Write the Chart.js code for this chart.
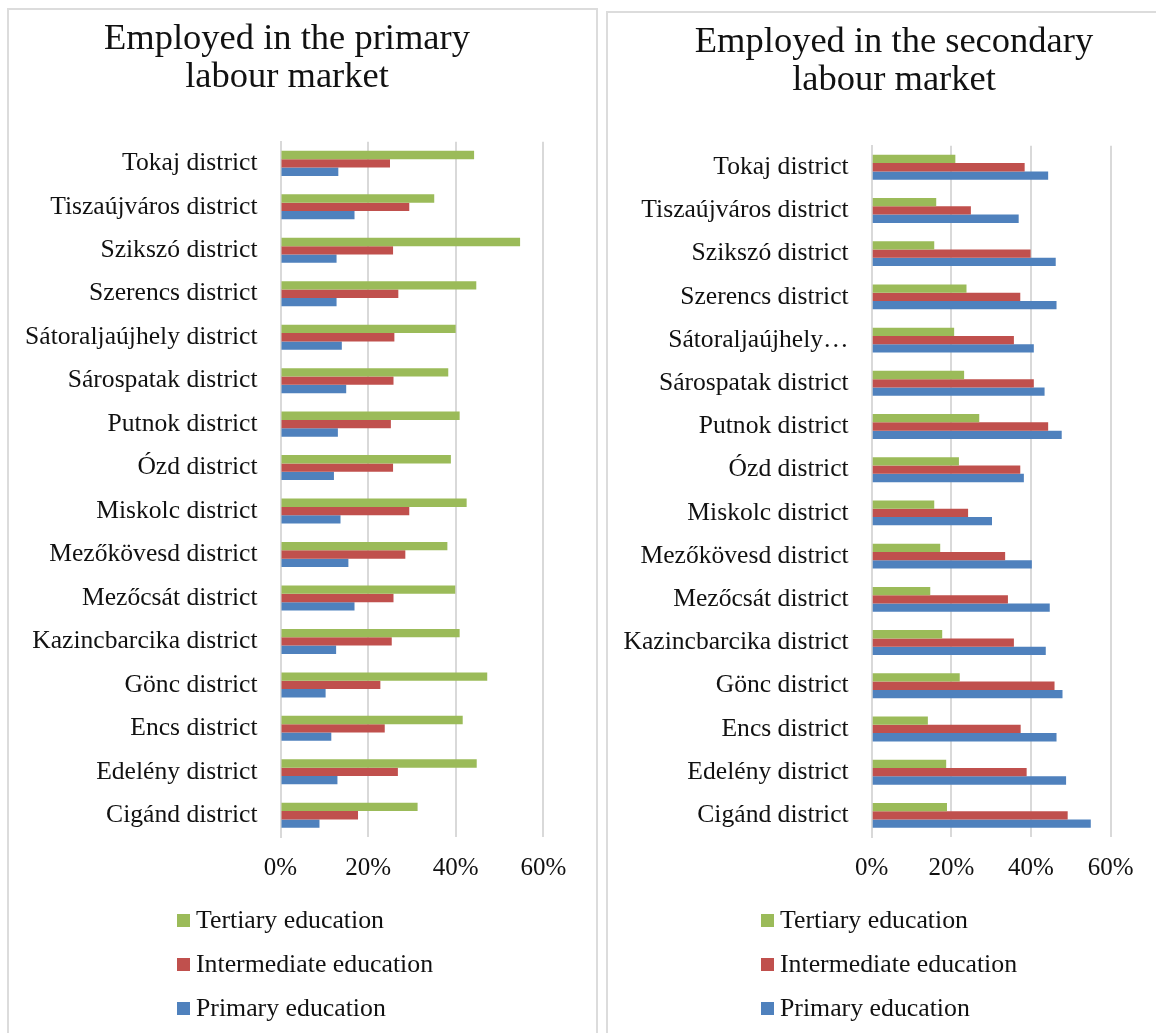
<!DOCTYPE html>
<html>
<head>
<meta charset="utf-8">
<script src="https://cdn.jsdelivr.net/npm/chart.js@4.4.0/dist/chart.umd.min.js"></script>
<style>
  body { margin: 0; background: #fff; width: 1156px; height: 1033px; overflow: hidden; position: relative; font-family: "Liberation Serif", serif; }
  .panel { position: absolute; border: 2px solid #dcdcdc; background: #fff; }
  canvas { position: absolute; top: 0; }
  .legend { position: absolute; font-size: 25.8px; color: #111; }
  .legend div { height: 44px; line-height: 44px; white-space: nowrap; }
  .legend span.box { display: inline-block; width: 13px; height: 13px; margin-right: 6px; vertical-align: middle; position: relative; top: -2px; }
</style>
</head>
<body>
<div class="panel" style="left:7px; top:8px; width:587px; height:1040px;"></div>
<div class="panel" style="left:606px; top:11px; width:560px; height:1040px;"></div>
<canvas id="primaryChart" width="600" height="900" style="left:0px;"></canvas>
<canvas id="secondaryChart" width="556" height="900" style="left:600px;"></canvas>
<div class="legend" id="primaryLegend" style="left:177px; top:898px;"></div>
<div class="legend" id="secondaryLegend" style="left:761px; top:898px;"></div>
<script>
const districts = [
    'Tokaj district',
    'Tiszaújváros district',
    'Szikszó district',
    'Szerencs district',
    'Sátoraljaújhely district',
    'Sárospatak district',
    'Putnok district',
    'Ózd district',
    'Miskolc district',
    'Mezőkövesd district',
    'Mezőcsát district',
    'Kazincbarcika district',
    'Gönc district',
    'Encs district',
    'Edelény district',
    'Cigánd district',
];

const seriesNames = ['Tertiary education', 'Intermediate education', 'Primary education'];
const seriesColors = ['#9bbb59', '#c0504d', '#4f81bd'];
const xTicks = [0, 20, 40, 60];

// primary labour market, % employed
const primaryTertiary = [44.2, 35.1, 54.7, 44.7, 40.0, 38.3, 40.9, 38.9, 42.5, 38.1, 39.9, 40.9, 47.2, 41.6, 44.8, 31.3];
const primaryIntermediate = [25.0, 29.4, 25.7, 26.9, 26.0, 25.8, 25.2, 25.7, 29.4, 28.5, 25.8, 25.4, 22.8, 23.8, 26.8, 17.7];
const primaryPrimary = [13.2, 16.9, 12.8, 12.8, 14.0, 15.0, 13.1, 12.2, 13.7, 15.5, 16.9, 12.7, 10.3, 11.6, 13.0, 8.9];

// secondary labour market, % employed
const secondaryTertiary = [21.0, 16.2, 15.7, 23.8, 20.7, 23.2, 27.0, 21.9, 15.7, 17.2, 14.7, 17.7, 22.1, 14.1, 18.7, 18.9];
const secondaryIntermediate = [38.4, 24.9, 39.9, 37.3, 35.7, 40.7, 44.3, 37.3, 24.2, 33.5, 34.2, 35.7, 45.9, 37.4, 38.9, 49.2];
const secondaryPrimary = [44.3, 36.9, 46.2, 46.4, 40.7, 43.4, 47.7, 38.2, 30.2, 40.2, 44.7, 43.7, 47.9, 46.4, 48.8, 55.0];

const FONT = '"Liberation Serif", "Times New Roman", serif';
Chart.defaults.font.family = FONT;
Chart.defaults.color = '#111';

function makeChart(id, legendId, title, values, opts) {
    const datasets = values.map((v, i) => ({
        label: seriesNames[i],
        data: v,
        backgroundColor: seriesColors[i],
        borderWidth: 0,
        barPercentage: 1,
        categoryPercentage: 0.576,
    }));

    // move the title so it sits centred over the panel, not the canvas
    const titleShift = {
        id: 'titleShift',
        afterLayout(chart) {
            const t = chart.titleBlock;
            const d = opts.titleCenter - (t.left + t.right) / 2;
            t.left += d;
            t.right += d;
        },
    };

    const chart = new Chart(document.getElementById(id), {
        type: 'bar',
        data: { labels: districts, datasets: datasets },
        plugins: [titleShift],
        options: {
            indexAxis: 'y',
            responsive: false,
            animation: false,
            layout: {
                padding: { left: 0, right: opts.padRight, top: 0, bottom: 0 },
            },
            plugins: {
                legend: { display: false },
                tooltip: { enabled: false },
                title: {
                    display: true,
                    text: title,
                    color: '#111',
                    font: { size: 36.5, weight: 'normal', lineHeight: 1.05 },
                    padding: { top: opts.titleTop, bottom: opts.titleBottom },
                },
            },
            scales: {
                x: {
                    min: 0,
                    max: 60,
                    afterFit: (scale) => { scale.height = 63; },
                    afterBuildTicks: (scale) => { scale.ticks = xTicks.map(v => ({ value: v })); },
                    ticks: {
                        padding: 16,
                        font: { size: 25 },
                        callback: (v) => v + '%',
                    },
                    grid: { color: '#d9d9d9', lineWidth: 2, drawTicks: false },
                    border: { display: false },
                },
                y: {
                    afterFit: (scale) => { scale.width = opts.yWidth; },
                    ticks: {
                        padding: 23,
                        font: { size: 25.6 },
                        callback: function (v) {
                            const l = this.getLabelForValue(v);
                            return l.length > opts.maxLabel ? l.split(' ')[0] + '…' : l;
                        },
                    },
                    grid: { display: false, drawTicks: false },
                    border: { display: true, color: '#d9d9d9', width: 2 },
                },
            },
        },
    });

    const legend = document.getElementById(legendId);
    chart.data.datasets.forEach(ds => {
        const row = document.createElement('div');
        const box = document.createElement('span');
        box.className = 'box';
        box.style.background = ds.backgroundColor;
        row.appendChild(box);
        row.appendChild(document.createTextNode(ds.label));
        legend.appendChild(row);
    });
    return chart;
}

makeChart('primaryChart', 'primaryLegend',
    ['Employed in the primary', 'labour market'],
    [primaryTertiary, primaryIntermediate, primaryPrimary],
    { padRight: 56.7, yWidth: 280.5, titleCenter: 287, titleTop: 20, titleBottom: 45, maxLabel: 30 });

makeChart('secondaryChart', 'secondaryLegend',
    ['Employed in the secondary', 'labour market'],
    [secondaryTertiary, secondaryIntermediate, secondaryPrimary],
    { padRight: 45.3, yWidth: 271.7, titleCenter: 294, titleTop: 23, titleBottom: 46, maxLabel: 22 });
</script>
</body>
</html>
